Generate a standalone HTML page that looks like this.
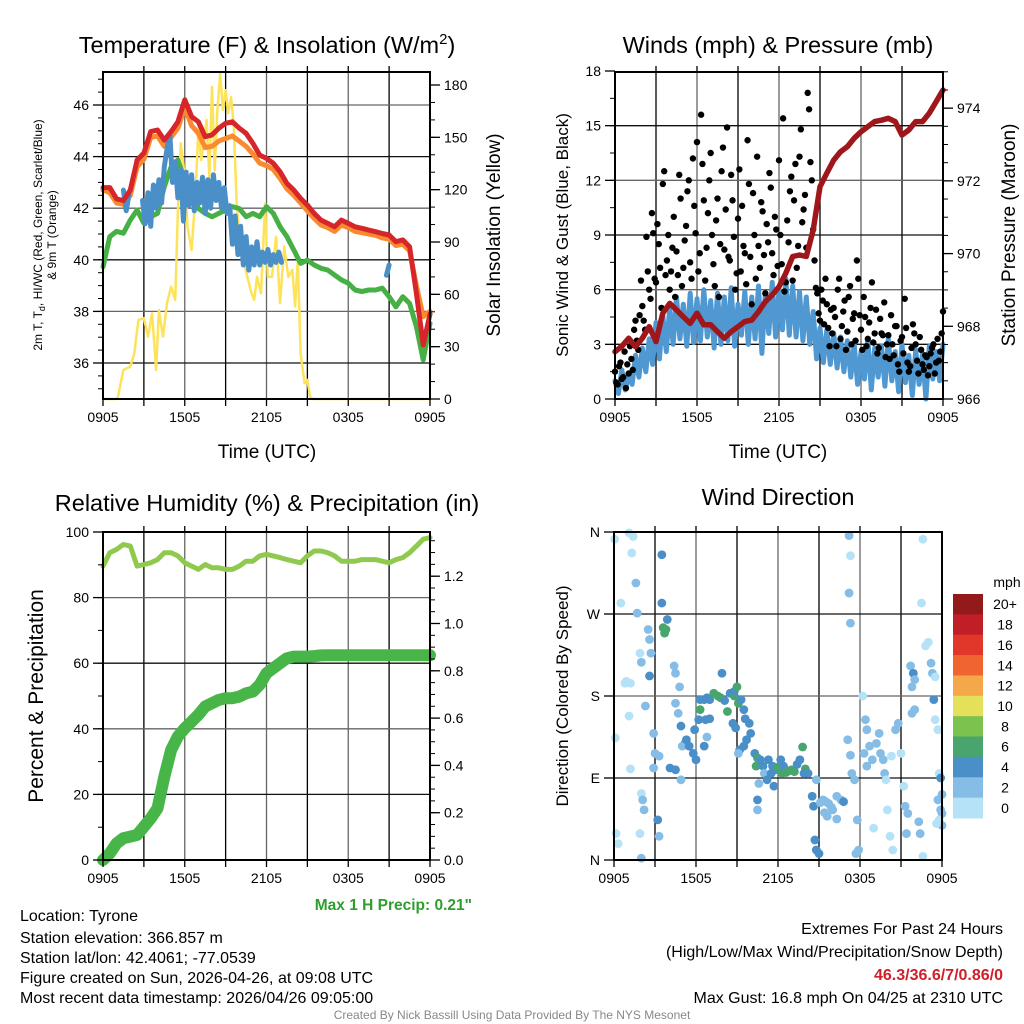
<!DOCTYPE html>
<html><head><meta charset="utf-8">
<style>
html,body{margin:0;padding:0;background:#fff;}
svg{display:block;font-family:"Liberation Sans",Arial,sans-serif;}
</style></head>
<body>
<svg id="fig" width="1024" height="1024" viewBox="0 0 1024 1024" xmlns="http://www.w3.org/2000/svg">
<rect width="1024" height="1024" fill="#fff"/>
<g id="layer-grid"></g>
<g id="layer-data"></g>
<g id="layer-axes"></g>

<text x="267" y="53" font-size="23.5" text-anchor="middle">Temperature (F) &amp; Insolation (W/m<tspan font-size="15" dy="-9">2</tspan><tspan dy="9">)</tspan></text>
<text x="778" y="53" font-size="23.5" text-anchor="middle">Winds (mph) &amp; Pressure (mb)</text>
<text x="267" y="511" font-size="23.5" text-anchor="middle">Relative Humidity (%) &amp; Precipitation (in)</text>
<text x="778" y="505" font-size="23.5" text-anchor="middle">Wind Direction</text>

<text transform="translate(42,235) rotate(-90)" font-size="12" text-anchor="middle">2m T, T<tspan font-size="9" dy="3">d</tspan><tspan dy="-3">, HI/WC (Red, Green, Scarlet/Blue)</tspan></text>
<text transform="translate(56,235) rotate(-90)" font-size="12" text-anchor="middle">&amp; 9m T (Orange)</text>
<text transform="translate(500,235) rotate(-90)" font-size="19" text-anchor="middle">Solar Insolation (Yellow)</text>
<text transform="translate(568,235) rotate(-90)" font-size="17" text-anchor="middle">Sonic Wind &amp; Gust (Blue, Black)</text>
<text transform="translate(1015,235) rotate(-90)" font-size="19" text-anchor="middle">Station Pressure (Maroon)</text>
<text transform="translate(43,696) rotate(-90)" font-size="21" text-anchor="middle">Percent &amp; Precipitation</text>
<text transform="translate(568,696) rotate(-90)" font-size="17" text-anchor="middle">Direction (Colored By Speed)</text>
<text x="267" y="458" font-size="19" text-anchor="middle">Time (UTC)</text>
<text x="778" y="458" font-size="19" text-anchor="middle">Time (UTC)</text>

<text x="472" y="910" font-size="15.5" font-weight="bold" fill="#2e9e2e" text-anchor="end">Max 1 H Precip: 0.21"</text>
<g font-size="16">
<text x="20" y="921">Location: Tyrone</text>
<text x="20" y="943">Station elevation: 366.857 m</text>
<text x="20" y="963">Station lat/lon: 42.4061; -77.0539</text>
<text x="20" y="983">Figure created on Sun, 2026-04-26, at 09:08 UTC</text>
<text x="20" y="1003">Most recent data timestamp: 2026/04/26 09:05:00</text>
</g>
<g font-size="16" text-anchor="end">
<text x="1003" y="934">Extremes For Past 24 Hours</text>
<text x="1003" y="957">(High/Low/Max Wind/Precipitation/Snow Depth)</text>
<text x="1003" y="980" font-weight="bold" fill="#d0202a">46.3/36.6/7/0.86/0</text>
<text x="1003" y="1003">Max Gust: 16.8 mph On 04/25 at 2310 UTC</text>
</g>
<text x="512" y="1019" font-size="12" fill="#888" text-anchor="middle">Created By Nick Bassill Using Data Provided By The NYS Mesonet</text>
</svg>

<script>
// ---------- DATA ----------
var xTickLabels = ["0905","1505","2105","0305","0905"];
var tempTicks = [36,38,40,42,44,46];
var solarTicks = [0,30,60,90,120,150,180];
var windTicks = [0,3,6,9,12,15,18];
var pressTicks = [966,968,970,972,974];
var rhTicks = [0,20,40,60,80,100];
var precipTicks = ["0.0","0.2","0.4","0.6","0.8","1.0","1.2"];
var dirLabels = ["N","E","S","W","N"];
var speedBins = ["0","2","4","6","8","10","12","14","16","18","20+"];

// half-hour series (t = 0, 0.5, ... 24 h)
var tempRed = [42.8,42.8,42.36,42.3,42.7,43.87,44.14,44.97,45.03,44.64,44.97,45.35,46.2,45.55,45.35,44.77,44.84,45.1,45.29,45.35,45.1,44.9,44.51,44.06,43.93,43.74,43.41,42.96,42.7,42.38,42.12,41.8,41.54,41.41,41.28,41.54,41.41,41.28,41.22,41.15,41.09,41.02,40.96,40.7,40.77,40.5,38.7,36.7,37.9];
var tempOrange = [42.7,42.6,42.2,42.15,42.5,43.6,43.9,44.75,44.8,44.4,44.75,45.1,45.9,45.2,44.9,44.35,44.4,44.6,44.7,44.8,44.6,44.4,44.1,43.75,43.65,43.5,43.15,42.75,42.5,42.2,41.9,41.6,41.35,41.25,41.1,41.35,41.25,41.1,41.05,41.0,40.95,40.85,40.8,40.55,40.6,40.35,39.0,37.8,38.0];
var tempGreen = [39.73,40.9,41.1,41.03,41.54,41.93,41.41,41.67,41.8,42.83,43.6,43.87,43.09,42.57,41.99,41.8,41.67,41.8,41.93,42.06,41.99,41.67,41.8,41.67,42.06,41.8,41.28,40.9,40.38,39.86,39.99,39.8,39.67,39.6,39.41,39.22,39.09,38.83,38.77,38.83,38.83,38.9,38.57,38.18,38.57,38.31,37.41,36.12,37.54];
var rhVals = [89.6,93.7,94.7,96.2,95.7,89.6,90.1,90.6,91.6,93.7,93.7,92.7,90.6,89.6,88.6,90.1,89.1,89.1,88.6,88.6,89.6,91.1,91.1,92.7,93.2,92.7,92.2,91.6,91.1,90.6,92.7,94.2,94.2,93.7,92.7,91.1,91.1,91.1,91.6,91.6,91.6,91.1,90.6,91.6,92.2,93.7,95.7,97.8,98.3];
var precipVals = [0,0.028,0.07,0.092,0.099,0.106,0.141,0.176,0.218,0.352,0.465,0.522,0.557,0.585,0.614,0.649,0.663,0.677,0.684,0.684,0.691,0.705,0.712,0.741,0.79,0.811,0.832,0.853,0.86,0.86,0.86,0.862,0.865,0.866,0.866,0.866,0.866,0.866,0.866,0.866,0.866,0.866,0.866,0.866,0.866,0.866,0.866,0.866,0.866];
var pressureVals = [967.3,967.45,967.67,967.44,967.67,967.99,967.58,968.36,968.63,968.45,968.26,968.08,968.36,968.04,968.04,967.85,967.67,967.85,967.99,968.13,968.17,968.4,968.68,968.86,969.09,969.46,969.92,969.96,969.92,970.65,971.84,972.21,972.57,972.8,972.94,973.17,973.35,973.49,973.63,973.67,973.72,973.63,973.26,973.4,973.63,973.63,973.86,974.18,974.5];

// blue wet-bulb/HI series (t, value) with gaps as null
var blueTimes = [1.5,1.7,1.9,2.1,2.9,3.1,3.3,3.5,3.7,3.9,4.1,4.3,4.5,4.7,4.9,5.1,5.3,5.5,5.7,5.9,6.1,6.3,6.5,6.7,6.9,7.1,7.3,7.5,7.7,7.9,8.1,8.3,8.5,8.7,8.9,9.1,9.3,9.5,9.7,9.9,10.1,10.3,10.5,10.7,10.9,11.1,11.3,11.5,11.7,11.9,12.1,12.3,12.5,12.7,12.9,13.1,13.3,20.8,21.0];
var blueVals = [42.7,41.9,42.5,null,42.3,41.4,42.6,41.3,42.9,42.0,43.1,42.2,43.6,44.3,44.9,43.0,43.8,42.4,43.5,41.5,43.4,42.1,43.3,41.9,43.0,42.2,43.2,41.8,43.1,42.0,43.3,42.3,43.0,42.0,42.8,41.8,42.1,40.6,41.7,40.2,41.3,39.8,40.9,39.6,40.5,39.8,40.7,39.8,40.3,39.9,40.4,39.8,40.2,39.9,40.3,39.9,null,39.4,39.8];

// solar insolation (t, W/m2)
var solarTimes = [0,1.0,1.1,1.5,2.0,2.3,2.6,3.0,3.3,3.6,3.9,4.1,4.4,4.7,5.0,5.3,5.5,5.7,6.0,6.2,6.5,6.8,7.0,7.2,7.4,7.6,7.8,8.0,8.2,8.4,8.6,8.8,9.0,9.2,9.4,9.6,9.8,10.0,10.3,10.6,10.9,11.1,11.3,11.6,11.9,12.1,12.4,12.7,13.0,13.3,13.6,13.9,14.1,14.3,14.5,14.8,15.0,15.2,15.4,24];
var solarVals = [0,0,1.3,16.6,18.5,26.2,45.3,46.3,35.7,49.1,16.6,51,35.7,54.9,64.4,56.8,108,146.6,127.5,98.8,85.4,118,156,137,146.6,160,127.5,179,131,165.7,186.7,165.7,177,163.8,173,156,114,93,79.7,70,60.6,56.8,70,60.6,112,70,70,93,54.9,87.3,70,74,53,79.7,26,9,10.9,1.3,0,0];

// sonic wind, every 15 min
var windVals = [1.0,0.3,1.6,0.5,1.3,0.8,2.4,1.2,2.8,1.5,3.3,1.9,4.2,2.2,4.6,2.6,5.0,3.0,5.6,3.3,5.2,2.9,5.8,3.1,5.5,3.2,6.0,3.4,5.4,2.8,5.8,3.0,5.6,3.2,6.1,2.9,5.2,3.5,5.9,3.0,5.6,3.3,6.2,2.5,5.8,3.6,6.4,3.4,6.0,3.8,6.6,3.5,6.2,3.4,5.9,3.2,5.6,3.0,4.8,2.2,3.9,2.0,3.8,1.9,3.6,1.7,3.4,1.5,3.2,1.2,3.0,0.8,2.6,1.1,3.3,0.5,2.8,1.2,2.9,0.7,3.3,1.0,2.6,0.4,3.0,0.9,2.4,0.2,2.7,0.8,2.5,0.0,2.9,1.1,2.6,1.0,3.0];
// gusts every 12 min (two offset sets)
var gustValsA = [1.5,0.8,2.0,1.2,0.6,1.4,2.2,3.8,3.2,4.6,5.1,3.8,7.0,5.5,9.1,6.4,8.5,5.0,12.5,7.6,6.0,8.3,5.6,6.8,11.0,7.2,9.5,12.0,6.6,10.6,14.1,8.0,12.9,6.5,10.2,13.5,7.4,9.8,5.6,12.5,8.2,14.9,7.6,10.9,6.0,9.9,7.0,8.4,6.3,11.8,5.2,9.0,13.3,7.2,10.3,5.8,8.6,11.6,6.8,9.3,13.1,7.4,5.9,9.8,11.4,6.5,12.9,8.4,14.8,10.4,8.3,15.9,12.0,7.6,5.8,4.3,5.4,6.6,3.9,4.9,5.0,2.9,6.6,4.0,5.4,3.7,6.2,4.4,3.2,6.6,3.8,5.6,2.9,4.2,6.4,3.6,2.5,4.4,3.5,2.3,3.5,4.6,2.4,4.0,1.5,3.4,5.5,2.0,1.8,4.1,3.0,1.4,2.7,1.6,2.3,1.8,2.8,1.4,3.3,2.6,4.8];
var gustValsB = [0.9,1.8,1.1,2.6,1.9,2.9,1.6,4.3,2.7,6.5,4.3,8.9,6.0,10.2,6.6,9.6,7.2,11.8,6.8,9.0,7.0,10.0,8.1,12.3,6.2,8.7,11.4,7.5,13.2,9.1,7.0,15.6,10.9,8.3,12.0,9.0,6.2,11.0,8.5,13.8,10.4,7.8,12.3,8.9,6.9,12.6,10.6,8.0,14.2,7.8,11.3,6.6,8.4,10.8,7.9,9.6,12.4,8.0,10.0,7.3,9.0,15.4,6.4,8.6,12.2,10.9,7.2,13.3,9.7,11.2,16.8,13.0,9.3,6.1,4.7,6.0,4.1,5.2,2.9,3.6,4.5,6.0,3.3,4.8,2.7,5.6,3.0,4.7,7.6,4.6,2.7,4.5,3.3,5.0,3.1,4.9,2.8,3.6,5.3,3.0,2.2,3.0,4.0,1.9,3.2,2.5,3.9,1.5,2.8,3.6,2.1,3.4,1.9,2.4,1.3,2.5,3.0,2.0,2.1,3.6];

// wind direction scatter (t hours, degrees, mph)
var dirTimes = [0.05,0.1,0.15,0.3,0.5,0.8,0.9,1.1,1.3,1.4,1.2,1.1,1.2,1.6,1.7,1.9,2.0,2.1,2.2,1.9,2.0,2.0,2.5,2.6,2.7,2.6,2.3,2.9,3.0,2.9,3.2,3.3,3.5,3.5,3.9,3.8,3.7,3.6,3.3,4.1,4.4,4.5,4.8,4.5,4.7,4.9,5.2,5.0,4.5,4.9,5.3,5.5,5.8,6.0,5.9,6.2,6.3,6.3,6.6,6.8,7.0,6.7,7.0,6.8,6.6,7.3,7.6,7.8,8.1,7.9,8.3,8.5,8.8,8.8,9.0,9.1,8.7,8.9,9.3,9.5,9.6,9.9,10.0,9.7,9.5,9.2,9.1,10.3,10.5,10.4,10.7,10.9,11.0,10.6,10.5,10.5,11.3,11.6,11.8,11.5,11.2,11.7,12.0,12.2,12.4,12.3,12.6,12.8,13.0,13.2,13.4,13.6,13.8,14.0,13.9,14.2,14.5,14.6,14.7,14.8,15.0,14.8,15.1,15.3,15.5,15.7,15.9,15.4,15.6,16.0,16.3,16.6,16.3,16.8,17.1,17.3,17.4,17.2,17.3,17.2,17.3,17.6,17.8,17.9,17.7,18.2,18.4,18.5,18.3,18.5,18.7,18.9,19.0,19.2,19.4,19.5,19.7,19.8,19.9,20.0,20.2,20.4,20.3,20.6,20.8,21.0,21.2,21.3,21.5,21.4,21.7,21.9,22.0,21.8,22.0,21.8,22.3,22.4,22.6,22.5,22.6,22.8,23.0,23.2,23.3,23.5,23.4,23.5,23.7,23.8,23.9,24.0,23.7,23.9,24.0,23.8,24.0,23.6];
var dirDegs = [352,134,29,18,282,194,196,359,337,355,194,158,100,304,271,227,73,66,55,29,2,217,253,242,227,202,169,139,117,101,44,26,335,282,264,253,249,255,114,101,213,205,190,172,161,147,128,125,99,88,132,125,117,110,143,154,165,176,176,178,176,154,155,135,125,183,180,178,175,205,163,183,180,185,190,172,150,145,176,165,155,150,139,132,125,121,117,117,112,103,110,103,95,84,66,55,110,103,99,95,88,81,102,110,103,95,96,98,99,97,105,110,124,100,95,95,70,59,22,11,7,88,63,66,64,62,58,52,48,55,70,66,45,64,132,115,95,356,334,293,260,88,44,11,7,180,154,143,117,103,125,110,35,128,139,117,110,95,88,55,26,11,114,143,150,117,81,59,51,29,213,205,198,190,165,161,42,29,4,282,352,235,239,216,205,201,176,154,143,95,90,72,66,55,51,44,38,40];
var dirSpeeds = [1,1,1,1,1,1,1,1,1,1,1,1,1,2,2,1,1,2,2,1,3,2,2,3,2,4,2,2,2,2,4,2,5,5,5,6,6,6,2,5,3,2,2,2,2,4,4,2,4,2,4,4,4,4,4,4,6,4,4,5,4,4,4,2,4,6,6,6,4,4,6,4,6,4,6,6,4,4,4,4,4,4,4,4,4,4,2,4,6,6,4,4,2,2,4,2,4,4,4,4,4,4,6,4,4,6,6,6,6,6,4,4,6,6,4,4,4,4,4,4,4,2,2,2,2,2,2,2,2,2,2,2,2,4,2,2,2,2,1,2,2,2,2,2,2,1,2,2,2,2,2,2,1,2,2,2,2,2,1,1,1,1,1,3,3,1,1,2,2,3,3,4,3,3,2,3,2,3,1,1,1,1,1,2,2,1,4,1,1,1,4,2,2,3,2,1,3,1];
var speedColors = ["#b5e2f7","#85bde6","#4a8fc8","#48a56d","#7cc24f","#e5e05a","#f5a84a","#ef642f","#e0372a","#c11f28","#921a1b"];
</script>
<script>
var NS = "http://www.w3.org/2000/svg";
var G = document.getElementById("layer-grid");
var D = document.getElementById("layer-data");
var A = document.getElementById("layer-axes");
function mk(tag, parent, attrs) { var e = document.createElementNS(NS, tag); for (var k in attrs) e.setAttribute(k, attrs[k]); parent.appendChild(e); return e; }

var P1 = {l:103, r:430, t:72, b:399};
var P2 = {l:615, r:943, t:72, b:399};
var P3 = {l:103, r:430, t:532, b:860};
var P4 = {l:614, r:942, t:532, b:860};
function xScale(P){ return function(h){ return P.l + h*(P.r-P.l)/24; }; }
function lin(d0,d1,r0,r1){ return function(v){ return r0 + (v-d0)*(r1-r0)/(d1-d0); }; }

var x1 = xScale(P1), x2 = xScale(P2), x3 = xScale(P3), x4 = xScale(P4);
var yTemp = lin(36,46,363,105);
var ySolar = lin(0,180,399,85);
var yWind = lin(0,18,399,71);
var yPress = lin(966,975,399,71.8);
var yRH = lin(0,100,860,532);
var yPrecip = lin(0,1.4,860,528.9);
var yDir = lin(0,360,860,532);

function panel(P, name, hLines) {
  var i, e;
  for (i = 1; i < 8; i++) {
    var xx = P.l + i*(P.r-P.l)/8;
    e = mk("line", G, {x1:xx, x2:xx, y1:P.t, y2:P.b, stroke:(i%2==0?"#666":"#000"), "stroke-width":1.3});
    
    
    e = mk("line", A, {x1:xx, x2:xx, y1:P.t-6, y2:P.t, stroke:"#000", "stroke-width":1.3});
    
    
  }
  for (i = 0; i <= 8; i++) {
    var xb = P.l + i*(P.r-P.l)/8;
    e = mk("line", A, {x1:xb, x2:xb, y1:P.b, y2:P.b+7, stroke:"#000", "stroke-width":1.3});
    
    
  }
  hLines.forEach(function(yy, j){
    e = mk("line", G, {x1:P.l, x2:P.r, y1:yy, y2:yy, stroke:(j%2==0?"#111":"#666"), "stroke-width":1.3});
    
    
  });
  e = mk("rect", A, {x:P.l, y:P.t, width:P.r-P.l, height:P.b-P.t, fill:"none", stroke:"#000", "stroke-width":2});
  
  
  xTickLabels.forEach(function(lbl, k){
    e = mk("text", A, {x:P.l + k*(P.r-P.l)/4, y:P.b+23, "font-size":14, "text-anchor":"middle"});
    e.textContent = lbl;
    
    
  });
}
function yAxis(P, name, side, vals, labels, scale, minorStep, minorFrom, minorTo) {
  var xe = side=="left" ? P.l : P.r, dir = side=="left" ? -1 : 1, e;
  for (var m = minorFrom; m <= minorTo + 1e-9; m += minorStep) {
    var yy = scale(m);
    if (yy < P.t-0.5 || yy > P.b+0.5) continue;
    e = mk("line", A, {x1:xe, x2:xe+dir*5, y1:yy, y2:yy, stroke:"#000", "stroke-width":1});
    
    
  }
  vals.forEach(function(v, k){
    var yy = scale(v);
    e = mk("line", A, {x1:xe, x2:xe+dir*10, y1:yy, y2:yy, stroke:"#000", "stroke-width":1.3});
    
    
    e = mk("text", A, {x:xe+dir*14, y:yy+5, "font-size":14, "text-anchor":(side=="left"?"end":"start")});
    e.textContent = labels[k];
    
    
  });
}
function line(ts, vs, xf, yf, color, w, name) {
  var d = "", pen = false;
  for (var i = 0; i < vs.length; i++) {
    if (vs[i] === null) { pen = false; continue; }
    d += (pen ? "L" : "M") + xf(ts[i]).toFixed(1) + "," + yf(vs[i]).toFixed(1);
    pen = true;
  }
  var e = mk("path", D, {d:d, fill:"none", stroke:color, "stroke-width":w, "stroke-linejoin":"round", "stroke-linecap":"round"});
  
  
}
function stepTimes(n, step, off){ var a=[]; for (var i=0;i<n;i++) a.push(off + i*step); return a; }

// ---- Panel 1 ----
panel(P1, "temperature", tempTicks.map(yTemp));
yAxis(P1, "temperature-left", "left", tempTicks, tempTicks.map(String), yTemp, 0.5, 34.5, 47.5);
yAxis(P1, "solar-right", "right", solarTicks, solarTicks.map(String), ySolar, 10, 0, 180);
var hh = stepTimes(49, 0.5, 0);
line(solarTimes, solarVals, x1, ySolar, "#fde35a", 2.5, "solar-insolation-line");
line(hh, tempOrange, x1, yTemp, "#f98a2f", 5, "temp-9m-orange-line");
line(hh, tempGreen, x1, yTemp, "#46b044", 5, "dewpoint-green-line");
line(blueTimes, blueVals, x1, yTemp, "#4a8fc8", 5, "heat-index-blue-line");
line(hh, tempRed, x1, yTemp, "#d7262a", 5, "temp-2m-red-line");

// ---- Panel 2 ----
panel(P2, "winds", windTicks.slice(1,6).map(yWind));
yAxis(P2, "wind-left", "left", windTicks, windTicks.map(String), yWind, 1.5, 0, 18);
yAxis(P2, "pressure-right", "right", pressTicks, pressTicks.map(String), yPress, 0.5, 966, 975);
line(stepTimes(97, 0.25, 0), windVals, x2, yWind, "#4f98d2", 5, "sonic-wind-line");
gustValsA.forEach(function(v, i){
  var c = mk("circle", D, {cx:x2(i*0.2), cy:yWind(v), r:3.2, fill:"#000"});
  
  
});
gustValsB.forEach(function(v, i){
  var c = mk("circle", D, {cx:x2(0.1 + i*0.2), cy:yWind(v), r:3.2, fill:"#000"});
  
  
});
line(hh, pressureVals, x2, yPress, "#a0171b", 5.5, "pressure-maroon-line");

// ---- Panel 3 ----
panel(P3, "humidity", rhTicks.slice(1,5).map(yRH));
yAxis(P3, "rh-left", "left", rhTicks, rhTicks.map(String), yRH, 10, 0, 100);
yAxis(P3, "precip-right", "right", precipTicks.map(Number), precipTicks, yPrecip, 0.05, 0, 1.4);
line(hh, rhVals, x3, yRH, "#8fca4e", 5, "relative-humidity-line");
line(hh, precipVals, x3, yPrecip, "#48b548", 12, "precipitation-line");

// ---- Panel 4 ----
panel(P4, "direction", [90,180,270].map(yDir));
yAxis(P4, "direction-left", "left", [0,90,180,270,360], dirLabels, yDir, 90, 0, 360);
dirTimes.forEach(function(t, i){
  var bin = Math.min(10, Math.floor(dirSpeeds[i] / 2));
  var c = mk("circle", D, {cx:x4(t), cy:yDir(dirDegs[i]), r:4.4, fill:speedColors[bin]});
  
  
});
var cbTop = 594, cbBot = 818, cbH = (cbBot - cbTop) / speedBins.length;
speedBins.forEach(function(lbl, k){
  var idx = speedBins.length - 1 - k;
  var r = mk("rect", A, {x:953, y:cbTop + k*cbH, width:30, height:cbH+0.5, fill:speedColors[idx]});
  
  
  var tx = mk("text", A, {x:1005, y:cbTop + k*cbH + cbH/2 + 5, "font-size":14, "text-anchor":"middle"});
  tx.textContent = speedBins[idx];
  
  
});
var mph = mk("text", A, {x:1007, y:587, "font-size":14, "text-anchor":"middle"});
mph.textContent = "mph";


</script>
</body></html>
